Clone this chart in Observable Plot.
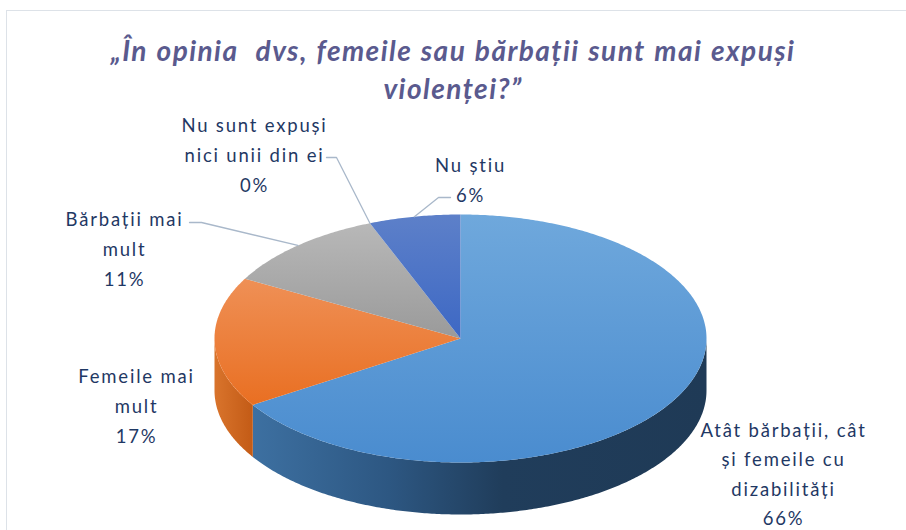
<!DOCTYPE html>
<html><head><meta charset="utf-8">
<script src="https://cdn.jsdelivr.net/npm/d3@7"></script>
<script src="https://cdn.jsdelivr.net/npm/@observablehq/plot@0.6"></script>
<style>
html,body{margin:0;padding:0;background:#fff;}
body{width:906px;height:530px;overflow:hidden;position:relative;font-family:Lato,"Open Sans",sans-serif;}
#frame{position:absolute;left:6px;top:10px;width:1000px;height:700px;border:1.5px solid #dde2e8;box-sizing:border-box;}
#title{position:relative;height:110px;box-sizing:border-box;padding-top:31px;text-align:center;font:italic 700 28px Lato,sans-serif;color:#5a5a8e;line-height:38px;letter-spacing:1.45px;word-spacing:1px;}
#chart{position:relative;height:420px;}
</style></head>
<body>
<div id="frame"></div>
<div id="title">„În opinia&nbsp; dvs, femeile sau bărbații sunt mai expuși<br>violenței?”</div>
<div id="chart"></div>
<script>
// ---- data ----
const categories = ["Atât bărbații, cât și femeile cu dizabilități", "Femeile mai mult", "Bărbații mai mult", "Nu sunt expuși nici unii din ei", "Nu știu"];
const values = [66, 17, 11, 0, 6];
const labelLines = [
  ["Atât bărbații, cât", "și femeile cu", "dizabilități"],
  ["Femeile mai", "mult"],
  ["Bărbații mai", "mult"],
  ["Nu sunt expuși", "nici unii din ei"],
  ["Nu știu"]
];

// ---- layout / style ----
const cx = 460, cy = 338, rx = 246, ry = 124, depth = 52;
const labelPos = [[783, 471], [136, 403], [124, 246], [254, 152], [470, 177]];
const leaderStart = [null, null, [[189, 222], [201, 222]], [[326, 157], [336, 157]], [[450, 197], [438, 197]]];
const topFill = ["url(#gTop0)", "url(#gTop1)", "url(#gTop2)", "url(#gTop3)", "url(#gTop4)"];
const sideFill = ["url(#gSide0)", "url(#gSide1)", "url(#gSide2)", "url(#gSide3)", "url(#gSide4)"];
const topStops = [
  [["0", "#6fa8dc"], ["1", "#4a8ccf"]],
  [["0", "#ef9056"], ["1", "#e96f22"]],
  [["0", "#b8b8b8"], ["1", "#9a9a9a"]],
  [["0", "#8a8a8a"], ["1", "#8a8a8a"]],
  [["0", "#5d80c9"], ["1", "#3d68c4"]]
];
const sideStops = [
  [["0", "#3d70a1"], ["0.3", "#2d5782"], ["0.55", "#203d5b"], ["1", "#1f3a56"]],
  [["0", "#d9742c"], ["1", "#c35b16"]],
  [["0", "#888"], ["1", "#777"]],
  [["0", "#888"], ["1", "#777"]],
  [["0", "#3356a0"], ["1", "#2a4a8c"]]
];

const arcs = d3.pie().sort(null).value(d => d)(values);
const P = (a, dy = 0) => ({x: cx + rx * Math.sin(a), y: cy - ry * Math.cos(a) + dy});
const arcPts = (a0, a1, dy = 0) => {
  const n = Math.max(2, Math.ceil((a1 - a0) / 0.01));
  return d3.range(n + 1).map(i => P(a0 + (a1 - a0) * i / n, dy));
};

const marks = [];
// gradient defs
marks.push(() => {
  const defs = d3.create("svg:defs");
  const add = (id, stops, horiz) => {
    const g = defs.append("linearGradient").attr("id", id)
      .attr("x1", 0).attr("y1", 0).attr("x2", horiz ? 1 : 0).attr("y2", horiz ? 0 : 1);
    stops.forEach(([o, c]) => g.append("stop").attr("offset", o).attr("stop-color", c));
  };
  topStops.forEach((s, i) => add("gTop" + i, s, false));
  sideStops.forEach((s, i) => add("gSide" + i, s, true));
  return defs.node();
});
// sides (front half only)
arcs.forEach((a, i) => {
  const s0 = Math.max(a.startAngle, Math.PI / 2), s1 = Math.min(a.endAngle, 3 * Math.PI / 2);
  if (s1 > s0) {
    const pts = [...arcPts(s0, s1), ...arcPts(s0, s1, depth).reverse()];
    marks.push(Plot.line(pts, {x: "x", y: "y", fill: sideFill[i], stroke: "none"}));
  }
});
// tops
arcs.forEach((a, i) => {
  if (a.endAngle - a.startAngle <= 0) return;
  const pts = [{x: cx, y: cy}, ...arcPts(a.startAngle, a.endAngle)];
  marks.push(Plot.line(pts, {x: "x", y: "y", fill: topFill[i], stroke: "none"}));
});
// leader lines
arcs.forEach((a, i) => {
  if (!leaderStart[i]) return;
  const mid = (a.startAngle + a.endAngle) / 2;
  const pts = [...leaderStart[i].map(([x, y]) => ({x, y})), P(mid)];
  marks.push(Plot.line(pts, {x: "x", y: "y", stroke: "#a9b8ca", strokeWidth: 1.3}));
});
// labels
const labels = categories.map((c, i) => ({
  x: labelPos[i][0], y: labelPos[i][1],
  text: [...labelLines[i], values[i] + "%"].join("\n")
}));
marks.push(Plot.text(labels, {
  x: "x", y: "y", text: "text", fill: "#1f3864", fontSize: 18.5,
  lineHeight: 1.6, lineAnchor: "middle", textAnchor: "middle", fontFamily: "Lato"
}));

const chart = Plot.plot({
  width: 906, height: 420, margin: 0,
  x: {domain: [0, 906], range: [0, 906], axis: null},
  y: {domain: [110, 530], range: [0, 420], axis: null},
  style: {background: "transparent", overflow: "visible", letterSpacing: "1.8px"},
  marks
});
document.getElementById("chart").append(chart);
</script>
</body></html>
